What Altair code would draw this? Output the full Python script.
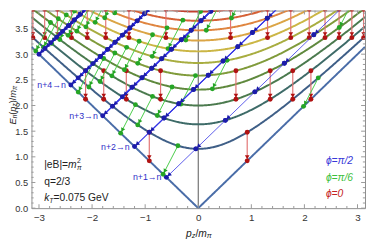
import numpy as np
import pandas as pd
import altair as alt

# ---- values printed on the chart ----
eB = 1.0            # |eB| = m_pi^2
q = 2.0 / 3.0       # q = 2/3
kT_GeV = 0.075      # k_T = 0.075 GeV
m_pi_GeV = 0.135
omega = kT_GeV / m_pi_GeV   # photon energy in m_pi units (length of the red arrows)

levels = list(range(12))                  # Landau levels n = 0..11
level_colors = ["#4a6da8", "#3f5f87", "#3e6b68", "#4b7a4e", "#5f893d", "#809b3b",
                "#a8ad40", "#cbb645", "#dba546", "#df8540", "#d56136", "#c2402f"]
jumps = [1, 2, 3, 4, 5]                   # n+k -> n

phi_values = [0.0, np.pi / 6, np.pi / 2]  # drawn red, green, blue
phi_line_colors = ["#e27474", "#48cc48", "#3434e6"]
phi_dot_colors = ["#b01212", "#25a525", "#1c1caa"]
phi_line_widths = [1.2, 1.0, 0.8]
blue_chain_widths = [0.8, 1.1, 1.5, 1.8, 2.1]
legend_texts = ["ϕ=π/2", "ϕ=π/6", "ϕ=0"]
legend_colors = ["#3838d8", "#3cc03c", "#c42222"]
chain_labels = ["n+1→n", "n+2→n", "n+3→n", "n+4→n"]

x_major = [-3, -2, -1, 0, 1, 2, 3]
y_major = [0.0, 0.5, 1.0, 1.5, 2.0, 2.5, 3.0, 3.5]
x_minor = [round(v, 1) for v in np.arange(-3.0, 3.01, 0.2)]
y_minor = [round(v, 1) for v in np.arange(0.0, 3.85, 0.1)]

X0, X1 = -np.pi, np.pi
Y0, Y1 = 0.0, 3.85
W, H = 341, 202
PAD_L, PAD_T = 24, 0
sx = W / (X1 - X0)
sy = H / (Y1 - Y0)


def energy(n, p):
    return np.sqrt(p ** 2 + 2 * n * q * eB)


def px_to_data(xp, yp):
    return X0 + (xp - 8 - PAD_L) / sx, Y1 - (yp - 8 - PAD_T) / sy


xs = alt.Scale(domain=[X0, X1], nice=False, zero=False)
ys = alt.Scale(domain=[Y0, Y1], nice=False, zero=False)
xax = alt.Axis(values=x_major, format="d", ticks=False, domain=False, grid=False,
               labelFontSize=10, labelColor="#333333", labelFont="Liberation Sans",
               labelPadding=5, title=None, labelFlush=False)
yax = alt.Axis(values=y_major, format=".1f", ticks=False, domain=False, grid=False,
               labelFontSize=9.5, labelColor="#333333", labelFont="Liberation Sans",
               labelPadding=4, title=None, labelFlush=False)


def X(f):
    return alt.X(f + ":Q", scale=xs, axis=xax)


def Y(f):
    return alt.Y(f + ":Q", scale=ys, axis=yax)


# ---- dispersion curves ----
pp = np.linspace(X0, X1, 361)
curve_df = pd.DataFrame([{"p": p, "E": float(energy(n, p)), "n": n} for n in levels for p in pp])

# ---- transitions ----
grid = np.linspace(-6, 6, 120001)
seg, dots, heads = [], [], []
chain_pts = {}


def inside(p, E, tol=0.03):
    return (X0 - tol <= p <= X1 + tol) and (E <= Y1 + tol)


for g, phi in enumerate(phi_values):
    kz = omega * np.sin(phi)
    for k in jumps:
        for n in levels:
            m = n + k
            f = energy(m, grid) - energy(n, grid - kz) - omega
            sg = np.sign(f)
            idx = np.where(sg[:-1] * sg[1:] < 0)[0]
            for i in idx:
                p = grid[i] - f[i] * (grid[i + 1] - grid[i]) / (f[i + 1] - f[i])
                ps, Es = p, float(energy(m, p))
                pe, Ee = p - kz, float(energy(n, p - kz))
                si, ei = inside(ps, Es), inside(pe, Ee)
                if not (si or ei):
                    continue
                w = blue_chain_widths[k - 1] if g == 2 else phi_line_widths[g]
                seg.append(dict(g=g, p1=ps, E1=Es, p2=pe, E2=Ee, w=w))
                if si:
                    dots.append(dict(g=g, p=ps, E=Es))
                if ei:
                    dots.append(dict(g=g, p=pe, E=Ee))
                    ux, uy = (ps - pe) * sx, -(Es - Ee) * sy
                    L = np.hypot(ux, uy)
                    ux, uy = ux / L, uy / L
                    b = 3.6
                    ang = float(np.degrees(np.arctan2(-ux, uy)) % 360)
                    heads.append(dict(g=g, p=pe + b * ux / sx, E=Ee - b * uy / sy, a=ang))
                if g == 2 and n == 0 and k <= 4:
                    chain_pts[k] = (pe, Ee)

seg_df = pd.DataFrame(seg)
dot_df = pd.DataFrame(dots)
head_df = pd.DataFrame(heads)

layers = []

# axis line at p = 0
layers.append(alt.Chart(pd.DataFrame({"p": [0.0], "E": [Y0], "E2": [Y1]})).mark_rule(
    color="#555555", strokeWidth=1).encode(x=X("p"), y=Y("E"), y2="E2:Q"))

# curves
layers.append(alt.Chart(curve_df).mark_line(strokeWidth=2, clip=True).encode(
    x=X("p"), y=Y("E"),
    color=alt.Color("n:N", scale=alt.Scale(domain=levels, range=level_colors), legend=None),
    order="p:Q"))

for g in range(3):
    s = seg_df[seg_df.g == g]
    d = dot_df[dot_df.g == g]
    h = head_df[head_df.g == g]
    layers.append(alt.Chart(s).mark_rule(color=phi_line_colors[g], clip=True).encode(
        x=X("p1"), y=Y("E1"), x2="p2:Q", y2="E2:Q",
        strokeWidth=alt.StrokeWidth("w:Q", scale=None)))
    layers.append(alt.Chart(d).mark_circle(size=25, color=phi_dot_colors[g], opacity=1,
                                           clip=True).encode(x=X("p"), y=Y("E")))
    layers.append(alt.Chart(h).mark_point(shape="triangle-up", filled=True, size=22,
                                          color=phi_dot_colors[g], opacity=1, clip=True).encode(
        x=X("p"), y=Y("E"), angle=alt.Angle("a:Q", scale=None)))

# ---- frame ticks (inward) ----
tick_rows = []
for v in x_minor:
    L = 4 if v in x_major else 2.2
    tick_rows.append(dict(x=v, x2=v, y=Y0, y2=Y0 + L / sy))
    tick_rows.append(dict(x=v, x2=v, y=Y1, y2=Y1 - L / sy))
for v in y_minor:
    L = 4 if v in y_major else 2.2
    tick_rows.append(dict(x=X0, x2=X0 + L / sx, y=v, y2=v))
    tick_rows.append(dict(x=X1, x2=X1 - L / sx, y=v, y2=v))
layers.append(alt.Chart(pd.DataFrame(tick_rows)).mark_rule(color="#999999", strokeWidth=1).encode(
    x=X("x"), x2="x2:Q", y=Y("y"), y2="y2:Q"))

# ---- text ----
CW = {'E': .667, 'n': .556, '(': .333, ')': .333, 'p': .556, 'z': .5, '/': .278, 'm': .833,
      'π': .55, 'T': .611, 'k': .5, '=': .584, '|': .26, 'e': .556, 'B': .667, '.': .278,
      ' ': .278, 'G': .778, 'V': .667, 'q': .556}


def tw(t, size):
    return sum(CW.get(c, .556) for c in t) * size


def txt(text, xp, yp, size, color, italic=False, angle=0, align="left", dx=0):
    p, E = px_to_data(xp, yp)
    df = pd.DataFrame({"p": [p], "E": [E], "t": [text]})
    return alt.Chart(df).mark_text(font="Liberation Sans", fontSize=size, color=color,
                                   fontStyle="italic" if italic else "normal", angle=angle,
                                   align=align, baseline="middle", dx=dx).encode(
        x=X("p"), y=Y("E"), text="t:N")


def run(pieces, xp, yp, rotated=False):
    out = []
    pos = 0.0
    for t, size, it, shift, color in pieces:
        if rotated:
            out.append(txt(t, xp + shift, yp - pos, size, color, it, angle=270))
        else:
            out.append(txt(t, xp + pos, yp + shift, size, color, it))
        pos += tw(t, size)
    return out


K = "#222222"
# |eB| = m_pi^2
layers += run([("|eB|=", 10.5, False, 0, K), ("m", 10.5, True, 0, K)], 45, 165.5)
mx = 45 + tw("|eB|=", 10.5) + tw("m", 10.5) + 0.3
layers.append(txt("2", mx, 161.5, 7, K))
layers.append(txt("π", mx, 169.5, 7, K, True))
layers.append(txt("q=2/3", 45, 183.3, 10.5, K))
layers += run([("k", 10.5, True, 0, K), ("T", 7, True, 2.8, K), ("=0.075 GeV", 10.5, False, 0, K)], 45, 200)

# legend
for t, c, yy in zip(legend_texts, legend_colors, [161.7, 179.3, 195.5]):
    layers.append(txt(t, 333, yy, 10.5, c, True))

# chain labels
for k, lab in enumerate(chain_labels, start=1):
    pe, Ee = chain_pts[k]
    df = pd.DataFrame({"p": [pe], "E": [Ee], "t": [lab]})
    layers.append(alt.Chart(df).mark_text(font="Liberation Sans", fontSize=9, color="#3030c8",
                                          align="right", baseline="middle", dx=-5).encode(
        x=X("p"), y=Y("E"), text="t:N"))

# axis titles
xt = [("p", 10.5, True, 0, K), ("z", 7.5, True, 3, K), ("/", 10.5, False, 0, K),
      ("m", 10.5, True, 0, K), ("π", 7.5, True, 3, K)]
wx = sum(tw(t, s) for t, s, *_ in xt)
layers += run(xt, 202.7 - wx / 2, 236)
yt = [("E", 9.5, True, 0, K), ("n", 6.5, True, 2.2, K), ("(", 9.5, False, 0, K), ("p", 9.5, True, 0, K),
      ("z", 6.5, True, 2.2, K), (")/", 9.5, False, 0, K), ("m", 9.5, True, 0, K), ("π", 6.5, True, 2.2, K)]
wy = sum(tw(t, s) for t, s, *_ in yt)
layers += run(yt, 13, 105 + wy / 2, rotated=True)

chart = alt.layer(*layers).properties(
    width=W, height=H,
    autosize=alt.AutoSizeParams(type="none"),
    padding={"left": PAD_L, "top": PAD_T, "right": 1, "bottom": 33},
).configure_view(stroke="#8c8c8c", strokeWidth=1)

chart.save("out.html", embed_options={"renderer": "svg", "actions": False})
